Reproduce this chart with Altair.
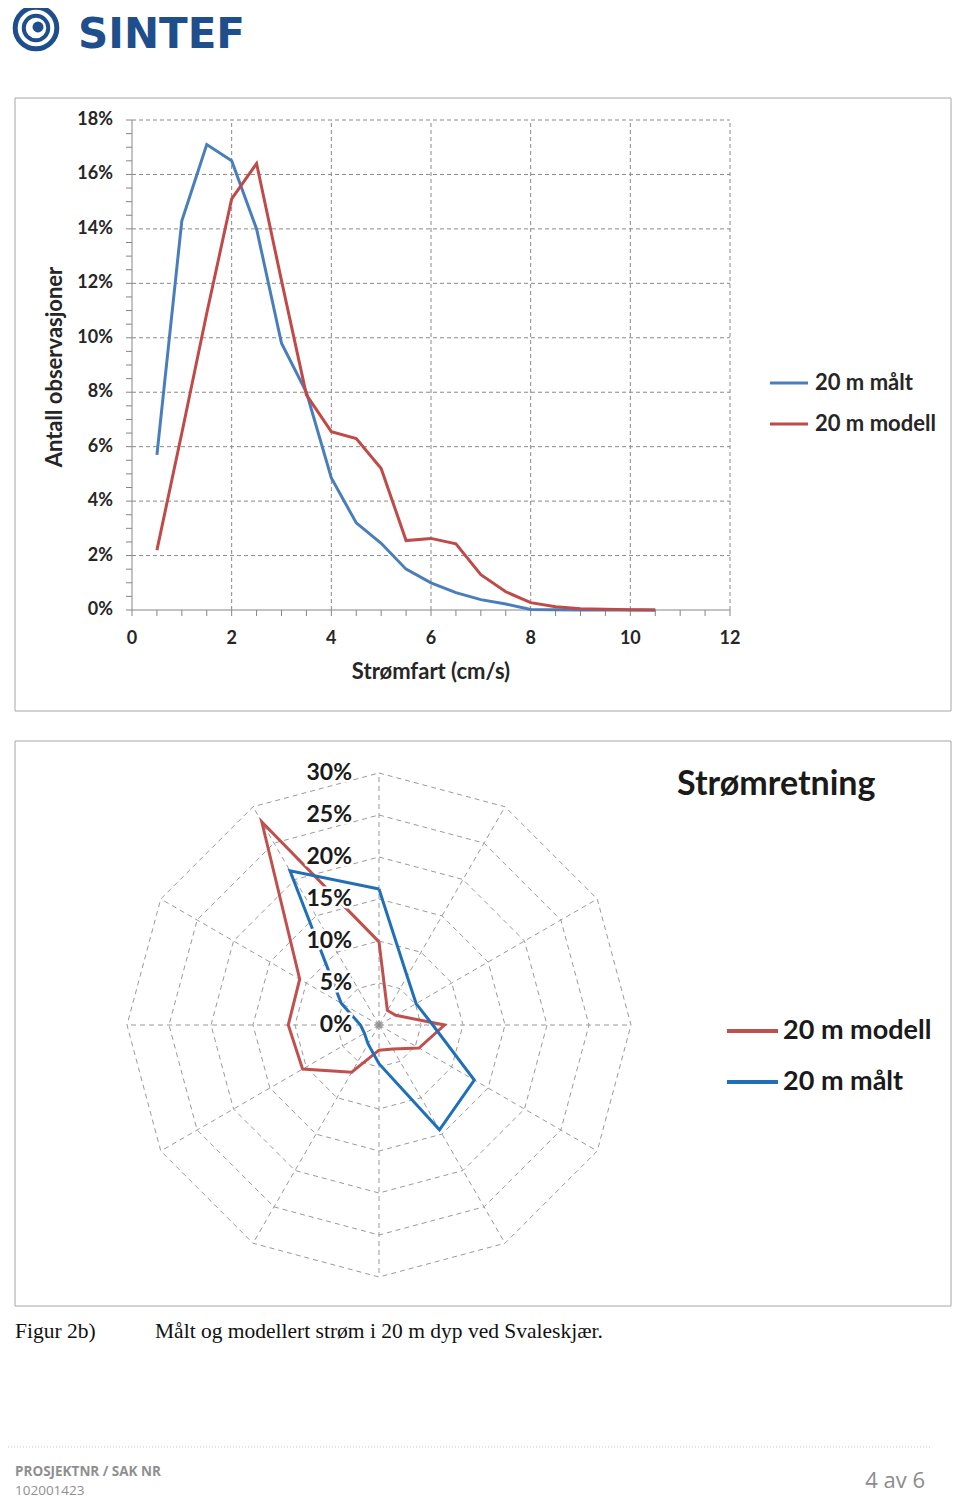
import altair as alt
import pandas as pd

W, H = 944, 1490

# ---------------- data: speed distribution ----------------
speed = [0.5, 1.0, 1.5, 2.0, 2.5, 3.0, 3.5, 4.0, 4.5, 5.0, 5.5, 6.0, 6.5,
         7.0, 7.5, 8.0, 8.5, 9.0, 9.5, 10.0, 10.5]
maalt_speed = [5.7, 14.3, 17.1, 16.5, 14.0, 9.8, 8.0, 4.85, 3.2, 2.45, 1.5,
               1.0, 0.64, 0.38, 0.22, 0.02, 0.01, 0.0, 0.0, 0.0, 0.0]
modell_speed = [2.2, 6.5, 10.9, 15.1, 16.4, 12.1, 7.9, 6.55, 6.3, 5.2, 2.55,
                2.63, 2.43, 1.3, 0.67, 0.27, 0.12, 0.05, 0.03, 0.01, 0.0]
speed_series = ["20 m målt", "20 m modell"]
speed_colors = ["#4a7ebb", "#be4b48"]
pct_ticks = [0, 2, 4, 6, 8, 10, 12, 14, 16, 18]
pct_labels = ["0%", "2%", "4%", "6%", "8%", "10%", "12%", "14%", "16%", "18%"]
speed_ticks = [0, 2, 4, 6, 8, 10, 12]
speed_labels = ["0", "2", "4", "6", "8", "10", "12"]
pct_minor = [i * 0.5 for i in range(37)]
speed_minor = [i * 0.5 for i in range(25)]

# ---------------- data: direction (radar) ----------------
directions = [0, 30, 60, 90, 120, 150, 180, 210, 240, 270, 300, 330]
modell_dir = [9.9, 2.0, 2.3, 7.8, 5.5, 3.3, 3.0, 6.5, 10.5, 10.8, 10.9, 27.9]
maalt_dir = [16.2, 6.7, 5.1, 6.4, 13.1, 14.4, 4.6, 2.6, 2.0, 2.2, 5.2, 21.2]
dir_series = ["20 m modell", "20 m målt"]
dir_colors = ["#c0504d", "#1f70b8"]
rings = [0, 5, 10, 15, 20, 25, 30]
ring_labels = ["0%", "5%", "10%", "15%", "20%", "25%", "30%"]

# ---------------- tables ----------------
speed_df = pd.DataFrame({
    "fart": speed + speed,
    "andel": maalt_speed + modell_speed,
    "serie": [speed_series[0]] * len(speed) + [speed_series[1]] * len(speed),
})
hgrid = pd.DataFrame({"y": pct_ticks[1:], "x0": speed_ticks[0], "x1": speed_ticks[-1]})
vgrid = pd.DataFrame({"x": speed_ticks[1:], "y0": pct_ticks[0], "y1": pct_ticks[-1]})
ydom = pd.DataFrame({"x": [speed_ticks[0]], "y0": [pct_ticks[0]], "y1": [pct_ticks[-1]]})
xdom = pd.DataFrame({"y": [pct_ticks[0]], "x0": [speed_ticks[0]], "x1": [speed_ticks[-1]]})
ytick_df = pd.DataFrame({"y": pct_minor, "x": speed_ticks[0]})
xtick_df = pd.DataFrame({"x": speed_minor, "y": pct_ticks[0]})
ylab_df = pd.DataFrame({"y": pct_ticks, "x": speed_ticks[0], "lab": pct_labels})
xlab_df = pd.DataFrame({"x": speed_ticks, "y": pct_ticks[0], "lab": speed_labels})
speed_leg = pd.DataFrame({"serie": speed_series, "row": list(range(len(speed_series)))})

rows = []
for name, vals in zip(dir_series, [modell_dir, maalt_dir]):
    for i, (a, v) in enumerate(zip(directions + [360], vals + [vals[0]])):
        rows.append({"serie": name, "angle": a, "r": v, "ord": i})
dir_df = pd.DataFrame(rows)
dir_leg = pd.DataFrame({"serie": dir_series, "row": list(range(len(dir_series)))})

ring_rows = []
for r in rings[1:]:
    for a in directions + [360]:
        ring_rows.append({"ring": r, "angle": a, "r": r})
ring_df = pd.DataFrame(ring_rows)
spoke_df = pd.DataFrame({"angle": directions, "r": rings[-1], "o": 0})
lab_df = pd.DataFrame({"r": rings, "lab": ring_labels, "o": 0})
center_df = pd.DataFrame({"o": [0]})
one = pd.DataFrame({"k": [0]})

FONT = "Lato"
DARK = "#262626"
AXC = "#868686"
polar = dict(rx="datum.r*sin(datum.angle*PI/180)", ry="datum.r*cos(datum.angle*PI/180)")

# ---------------- speed chart ----------------
xs = alt.Scale(domain=[0, 12], range=[124, 722], nice=False, zero=False)
ys = alt.Scale(domain=[0, 18], range=[602, 112], nice=False, zero=False)
X = lambda f: alt.X(f, scale=xs, axis=None)
Y = lambda f: alt.Y(f, scale=ys, axis=None)

grid_h = alt.Chart(hgrid).mark_rule(color="#8a8a8a", strokeWidth=1, strokeDash=[4, 3]).encode(
    x=X("x0:Q"), x2="x1:Q", y=Y("y:Q"))
grid_v = alt.Chart(vgrid).mark_rule(color="#8a8a8a", strokeWidth=1, strokeDash=[4, 3]).encode(
    x=X("x:Q"), y=Y("y0:Q"), y2="y1:Q")
y_domain = alt.Chart(ydom).mark_rule(color=AXC, strokeWidth=1).encode(
    x=X("x:Q"), y=Y("y0:Q"), y2="y1:Q")
x_domain = alt.Chart(xdom).mark_rule(color=AXC, strokeWidth=1).encode(
    x=X("x0:Q"), x2="x1:Q", y=Y("y:Q"))
y_ticks = alt.Chart(ytick_df).mark_rule(color=AXC, strokeWidth=1, x2Offset=-6).encode(
    x=X("x:Q"), x2="x:Q", y=Y("y:Q"))
x_ticks = alt.Chart(xtick_df).mark_rule(color=AXC, strokeWidth=1, y2Offset=6).encode(
    x=X("x:Q"), y=Y("y:Q"), y2="y:Q")
y_labels = alt.Chart(ylab_df).mark_text(
    align="right", baseline="middle", dx=-19, font=FONT, fontSize=18, fontWeight="bold",
    color=DARK).encode(x=X("x:Q"), y=Y("y:Q"), text="lab:N")
x_labels = alt.Chart(xlab_df).mark_text(
    align="center", baseline="middle", dy=29, font=FONT, fontSize=18, fontWeight="bold",
    color=DARK).encode(x=X("x:Q"), y=Y("y:Q"), text="lab:N")

lines = alt.Chart(speed_df).mark_line(strokeWidth=3).encode(
    x=X("fart:Q"), y=Y("andel:Q"),
    color=alt.Color("serie:N", scale=alt.Scale(domain=speed_series, range=speed_colors), legend=None),
)

leg_ys = alt.Scale(domain=[0, 1], range=[375, 416])
speed_leg_lines = alt.Chart(speed_leg).mark_rule(strokeWidth=3).encode(
    x=alt.value(762), x2=alt.value(800),
    y=alt.Y("row:Q", scale=leg_ys, axis=None),
    color=alt.Color("serie:N", scale=alt.Scale(domain=speed_series, range=speed_colors), legend=None))
speed_leg_text = alt.Chart(speed_leg).mark_text(
    align="left", baseline="middle", font=FONT, fontSize=22, fontWeight="bold", color=DARK).encode(
    x=alt.value(807), y=alt.Y("row:Q", scale=leg_ys, axis=None), text="serie:N")

# ---------------- radar chart ----------------
rxs = alt.Scale(domain=[-30, 30], range=[119, 623], nice=False, zero=False)
rys = alt.Scale(domain=[-30, 30], range=[1269, 765], nice=False, zero=False)
RX = lambda f: alt.X(f, scale=rxs, axis=None)
RY = lambda f: alt.Y(f, scale=rys, axis=None)

ring_layer = alt.Chart(ring_df).transform_calculate(**polar).mark_line(
    color="#9a9a9a", strokeWidth=1, strokeDash=[5, 4]).encode(
    x=RX("rx:Q"), y=RY("ry:Q"), detail="ring:N", order="angle:Q")
spoke_layer = alt.Chart(spoke_df).transform_calculate(**polar).mark_rule(
    color="#9a9a9a", strokeWidth=1, strokeDash=[5, 4]).encode(
    x=RX("o:Q"), y=RY("o:Q"), x2="rx:Q", y2="ry:Q")
label_halo = alt.Chart(lab_df).mark_text(
    align="right", baseline="middle", dx=-27, font=FONT, fontSize=23, fontWeight="bold",
    fill="white", stroke="white", strokeWidth=5, strokeJoin="round").encode(
    x=RX("o:Q"), y=RY("r:Q"), text="lab:N")
label_text = alt.Chart(lab_df).mark_text(
    align="right", baseline="middle", dx=-27, font=FONT, fontSize=23, fontWeight="bold",
    color="#1a1a1a").encode(x=RX("o:Q"), y=RY("r:Q"), text="lab:N")
center_mark = alt.Chart(center_df).mark_point(
    shape="M-1,0L1,0M0,-1L0,1M-0.7,-0.7L0.7,0.7M-0.7,0.7L0.7,-0.7",
    size=70, color="#8c8c8c", strokeWidth=1.5).encode(x=RX("o:Q"), y=RY("o:Q"))
radar_lines = alt.Chart(dir_df).transform_calculate(**polar).mark_line(strokeWidth=3).encode(
    x=RX("rx:Q"), y=RY("ry:Q"), order="ord:Q",
    color=alt.Color("serie:N", scale=alt.Scale(domain=dir_series, range=dir_colors), legend=None),
)

dleg_ys = alt.Scale(domain=[0, 1], range=[1023, 1074])
dir_leg_lines = alt.Chart(dir_leg).mark_rule(strokeWidth=4).encode(
    x=alt.value(719), x2=alt.value(770),
    y=alt.Y("row:Q", scale=dleg_ys, axis=None),
    color=alt.Color("serie:N", scale=alt.Scale(domain=dir_series, range=dir_colors), legend=None))
dir_leg_text = alt.Chart(dir_leg).mark_text(
    align="left", baseline="middle", font=FONT, fontSize=27, fontWeight="bold",
    color="#1a1a1a").encode(
    x=alt.value(775), y=alt.Y("row:Q", scale=dleg_ys, axis=None), text="serie:N")

# ---------------- decorations ----------------
def txt(s, x, y, **kw):
    return alt.Chart(one).mark_text(text=s, **kw).encode(x=alt.value(x), y=alt.value(y))

frame1 = alt.Chart(one).mark_rect(fill="white", stroke="#a6a6a6", strokeWidth=1).encode(
    x=alt.value(7), x2=alt.value(943), y=alt.value(90), y2=alt.value(703))
frame2 = alt.Chart(one).mark_rect(fill="white", stroke="#a6a6a6", strokeWidth=1).encode(
    x=alt.value(7), x2=alt.value(943), y=alt.value(733), y2=alt.value(1298))

LOGO = "#1f4e8c"
logo_outer = alt.Chart(one).mark_point(shape="circle", size=1735, filled=False, color=LOGO,
                                       strokeWidth=5, opacity=1).encode(x=alt.value(28), y=alt.value(20))
logo_inner = alt.Chart(one).mark_point(shape="circle", size=600, filled=False, color=LOGO,
                                       strokeWidth=4, opacity=1).encode(x=alt.value(28), y=alt.value(20))
logo_dot = alt.Chart(one).mark_point(shape="circle", size=120, filled=True, color=LOGO,
                                     opacity=1).encode(x=alt.value(30), y=alt.value(19))
logo_text = txt("SINTEF", 70, 39.5, font="DejaVu Sans", fontSize=42, fontWeight="bold",
                color=LOGO, align="left", baseline="alphabetic")

radar_title = txt("Strømretning", 669, 777, font=FONT, fontSize=34, fontWeight="bold",
                  color="#1a1a1a", align="left", baseline="middle")

x_title = txt("Strømfart (cm/s)", 423, 664, font=FONT, fontSize=22, fontWeight="bold",
              color=DARK, align="center", baseline="middle")
y_title = txt("Antall observasjoner", 47, 359, font=FONT, fontSize=22, fontWeight="bold",
              color=DARK, align="center", baseline="middle", angle=270)

cap1 = txt("Figur 2b)", 7, 1324, font="Liberation Serif", fontSize=21.5, color="#111111",
           align="left", baseline="middle")
cap2 = txt("Målt og modellert strøm i 20 m dyp ved Svaleskjær.", 147, 1324,
           font="Liberation Serif", fontSize=21.5, color="#111111", align="left", baseline="middle")

dots1 = alt.Chart(one).mark_rule(color="#c8c8c8", strokeWidth=1, strokeDash=[1, 2]).encode(
    x=alt.value(0), x2=alt.value(924), y=alt.value(1439))
foot1 = txt("PROSJEKTNR / SAK NR", 7, 1464, font="Open Sans", fontSize=13.5, fontWeight="bold",
            color="#8f8f8f", align="left", baseline="middle")
foot2 = txt("102001423", 7, 1483, font="Open Sans", fontSize=13.5, color="#8f8f8f",
            align="left", baseline="middle")
foot3 = txt("4 av 6", 917, 1473, font="Open Sans", fontSize=22, color="#8c8c8c",
            align="right", baseline="middle")

chart = alt.layer(
    frame1, frame2,
    logo_outer, logo_inner, logo_dot, logo_text,
    grid_h, grid_v, y_domain, x_domain, y_ticks, x_ticks, y_labels, x_labels, lines,
    speed_leg_lines, speed_leg_text, x_title, y_title,
    ring_layer, spoke_layer, radar_lines, center_mark, label_halo, label_text, radar_title,
    dir_leg_lines, dir_leg_text,
    cap1, cap2, dots1, foot1, foot2, foot3,
).resolve_scale(x="independent", y="independent", color="independent").properties(
    width=W, height=H, autosize=alt.AutoSizeParams(type="none"), padding=0,
    background="white",
).configure_view(strokeWidth=0)

chart.save("out.html", embed_options={"renderer": "svg", "actions": False})
